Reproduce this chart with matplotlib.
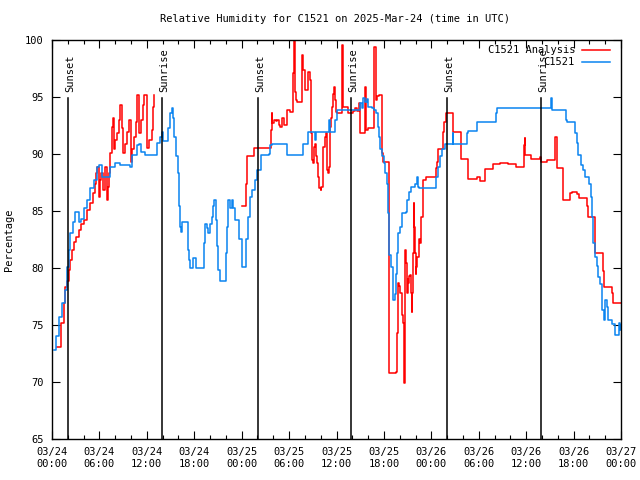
import numpy as np
import matplotlib
matplotlib.use("Agg")
import matplotlib.pyplot as plt

plt.rcParams['font.family'] = 'DejaVu Sans Mono'
plt.rcParams['font.size'] = 7.5

# hours since 2025-03-24 00:00 UTC
obs_t = [0.2, 0.5, 0.85, 1.27, 1.6, 1.9, 2.1, 2.3, 2.6, 2.87, 3.2, 3.4, 3.7, 4.0, 4.4,
         4.85, 5.3, 5.7, 5.9, 6.3, 6.9, 7.4, 7.8, 8.0, 8.6, 9.9, 10.1, 10.8, 11.0, 11.3,
         11.8, 13.0, 13.25, 13.7, 13.9, 14.1, 14.65, 14.9, 15.15, 15.35, 15.5, 15.65, 15.9,
         16.1, 16.2, 16.35, 16.5, 17.0, 17.2, 17.35, 17.5, 17.8, 18.0, 18.2, 19.0, 19.2,
         19.4, 19.6, 19.8, 20.0, 20.2, 20.4, 20.55, 20.7, 20.9, 21.05, 21.3, 21.8, 22.0,
         22.1, 22.3, 22.5, 22.75, 22.9, 23.2, 23.6, 24.0, 24.5, 24.6, 24.8, 25.0, 25.3,
         25.7, 26.0, 26.4, 27.4, 27.6, 27.8, 29.7, 31.7, 31.8, 32.45, 33.1, 33.3, 33.4,
         35.1, 35.2, 35.8, 36.0, 39.0, 39.2, 39.4, 39.6, 39.8, 40.0, 40.5, 40.8, 41.0,
         41.2, 41.4, 41.5, 41.8, 42.05, 42.2, 42.4, 42.5, 42.6, 42.7, 42.9, 43.1, 43.2,
         43.35, 43.5, 43.65, 43.8, 44.0, 44.25, 44.8, 44.9, 45.2, 45.4, 45.95, 46.15,
         46.3, 46.5, 48.6, 48.9, 49.1, 49.4, 49.7, 50.7, 50.8, 52.5, 52.6, 53.8, 56.15,
         56.3, 63.1, 63.2, 63.3, 65.1, 65.2, 66.2, 66.4, 66.6, 66.9, 67.2, 67.4, 67.9,
         68.2, 68.3, 68.5, 68.7, 68.9, 69.1, 69.3, 69.6, 69.8, 70.0, 70.2, 70.4, 70.9,
         71.2, 71.7, 71.9, 72.0]
obs_rh = [72.8, 74.0, 75.7, 76.9, 78.1, 80.1, 81.6, 83.1, 84.0, 84.9, 84.9, 84.0, 84.3, 85.3, 86.0,
          87.0, 87.7, 88.9, 89.0, 88.0, 88.0, 88.9, 88.9, 89.2, 89.0, 88.9, 89.9, 90.8, 90.9, 90.2,
          89.9, 89.9, 91.0, 91.5, 91.9, 91.1, 92.3, 93.6, 94.0, 93.2, 91.5, 89.8, 88.3,
          85.4, 83.6, 83.2, 84.0, 84.0, 81.6, 80.7, 80.0, 80.9, 80.9, 80.0, 80.0, 82.2,
          83.9, 83.5, 83.1, 83.9, 84.5, 85.4, 86.0, 84.2, 81.9, 79.8, 78.9, 78.9, 81.3,
          83.6, 86.0, 85.3, 86.0, 85.3, 84.2, 82.5, 80.1, 80.1, 82.5, 84.5, 86.2, 86.8,
          87.7, 88.6, 89.9, 90.0, 90.8, 90.9, 89.9, 90.8, 90.9, 91.9, 91.9, 91.2, 91.9,
          93.0, 91.9, 93.0, 93.9, 94.5, 94.0, 94.9, 94.6, 94.8, 94.1, 94.0, 93.9, 93.6,
          92.4, 91.5, 90.4, 89.8, 89.2, 88.3, 87.4, 84.8, 82.2, 81.1, 80.1, 78.3, 77.2,
          77.7, 79.5, 81.3, 83.1, 83.6, 84.8, 84.9, 86.0, 86.7, 87.1, 87.4, 88.0,
          87.1, 87.0, 88.0, 88.9, 89.8, 90.4, 90.9, 91.8, 90.9, 91.8, 92.0, 92.8, 93.6,
          94.0, 94.5, 94.9, 93.9, 93.0, 92.8, 91.8, 91.0, 89.9, 89.0, 88.6, 88.0, 87.4,
          86.2, 84.5, 82.2, 81.0, 80.2, 79.2, 78.6, 76.3, 75.4, 77.2, 76.6, 75.4, 75.1,
          74.1, 75.2, 74.6, 75.0]

ana_t = [0.6, 1.2, 1.5, 1.7, 1.9, 2.1, 2.3, 2.5, 2.75, 3.0, 3.4, 3.7, 4.0, 4.4, 4.85, 5.15,
         5.4, 5.6, 5.7, 5.9, 6.1, 6.25, 6.4, 6.75, 6.9, 7.05, 7.2, 7.4, 7.6, 7.7, 7.8, 8.0,
         8.2, 8.45, 8.65, 8.9, 9.0, 9.2, 9.5, 9.7, 10.0, 10.15, 10.4, 10.6, 10.75, 11.0,
         11.3, 11.5, 11.7, 12.0, 12.3, 12.6, 12.8, 12.85, 12.9,
         24.0, 24.6, 24.7, 25.55, 27.7, 27.8, 27.9, 28.1, 28.3, 28.5, 28.7, 28.9, 29.1,
         29.4, 29.7, 30.1, 30.45, 30.6, 30.75, 30.85, 31.0, 31.6, 31.7, 31.8, 32.0, 32.4,
         32.6, 32.75, 32.9, 33.0, 33.1, 33.3, 33.4, 33.55, 33.7, 33.8, 34.0, 34.1, 34.3,
         34.35, 34.5, 34.7, 34.8, 34.9, 35.0, 35.2, 35.3, 35.4, 35.6, 35.7, 35.8, 35.9,
         36.0, 36.75, 36.85, 37.5, 38.1, 38.4, 38.6, 38.8, 39.0, 39.6, 39.7, 39.75, 40.0,
         40.7, 41.0, 41.1, 41.4, 41.7, 41.8, 41.9, 42.6, 42.65, 42.7, 43.5, 43.6, 43.7,
         43.8, 43.9, 44.05, 44.25, 44.4, 44.5, 44.55, 44.62, 44.7, 44.8, 44.9, 45.0, 45.1,
         45.2, 45.3, 45.4, 45.5, 45.6, 45.7, 45.8, 45.85, 45.9, 46.0, 46.1, 46.2, 46.4,
         46.6, 46.7, 46.9, 47.0, 47.3, 48.6, 48.7, 48.8, 49.5, 49.6, 49.85, 50.7, 51.75,
         52.7, 53.75, 54.1, 54.8, 55.8, 56.7, 57.7, 58.7, 59.7, 59.8, 59.9, 60.6, 61.8,
         61.9, 62.6, 63.6, 63.7, 63.9, 64.6, 64.7, 65.6, 65.75, 66.4, 66.7, 67.7, 67.8,
         68.7, 69.75, 69.9, 70.8, 71.05, 72.0]
ana_rh = [73.1, 75.2, 76.9, 78.3, 78.9, 79.8, 80.7, 81.6, 82.3, 82.7, 83.3, 83.9, 84.2, 85.1, 85.7, 86.6,
          87.4, 88.3, 88.9, 86.2, 87.7, 88.3, 86.8, 88.9, 86.0, 87.1, 88.3, 90.1, 92.4, 93.2, 90.4, 91.2,
          91.8, 93.0, 94.3, 92.3, 90.1, 90.9, 91.9, 93.0, 89.3, 90.4, 91.5, 92.8, 95.2, 91.8,
          93.0, 94.3, 95.2, 90.5, 91.2, 92.1, 94.1, 95.2, np.nan,
          85.4, 87.4, 89.8, 90.5, 92.1, 93.6, 92.7, 93.0, 92.9, 93.0, 92.5, 92.4, 93.2,
          92.5, 93.9, 93.7, 97.1, 100.0, 95.4, 94.7, 94.6, 98.7, 97.7, 97.4, 95.6, 97.2,
          96.5, 91.8, 89.5, 89.2, 90.6, 90.9, 89.8, 89.2, 88.0, 87.0, 86.8, 87.1, 89.2,
          90.6, 91.5, 91.8, 88.6, 88.3, 88.9, 92.4, 93.2, 94.1, 95.3, 95.9, 94.7, 93.7,
          93.6, 99.6, 94.1, 93.6, 93.8, 94.0, 93.8, 94.5, 91.8, 95.9, 95.0, 92.1, 92.3,
          99.4, 94.7, 95.1, 95.2, 92.3, 90.1, 89.3, 89.2, 80.1, 70.8, 70.9, 71.0, 74.3,
          78.7, 78.4, 77.8, 75.9, 75.2, 72.6, 69.9, 75.2, 81.6, 80.4, 77.8, 79.0, 78.7,
          79.3, 79.4, 77.8, 76.1, 77.8, 81.3, 85.7, 83.6, 81.3, 79.5, 80.1, 81.0, 82.5,
          82.2, 84.5, 85.3, 87.7, 88.0, 88.8, 89.3, 90.4, 91.9, 92.8, 93.6, 91.9, 89.6,
          87.8, 88.0, 87.6, 88.7, 89.1, 89.2, 89.1, 88.9, 90.8, 91.4, 89.9, 89.6, 89.7,
          89.3, 89.5, 90.5, 91.5, 88.8, 87.3, 86.0, 86.6, 86.7, 86.5, 86.1, 85.4, 84.5,
          81.3, 79.7, 78.3, 77.8, 76.9, 76.9]

sun_t = [2.0, 13.9, 26.05, 37.8, 50.0, 61.9]
sun_names = ["Sunset", "Sunrise", "Sunset", "Sunrise", "Sunset", "Sunrise"]

tick_hours = list(range(0, 73, 6))
tick_labels = ["03/24\n00:00", "03/24\n06:00", "03/24\n12:00", "03/24\n18:00",
               "03/25\n00:00", "03/25\n06:00", "03/25\n12:00", "03/25\n18:00",
               "03/26\n00:00", "03/26\n06:00", "03/26\n12:00", "03/26\n18:00",
               "03/27\n00:00"]

red = '#ff0000'
blue = '#0a84f0'

fig = plt.figure(figsize=(6.4, 4.8), dpi=100)
ax = fig.add_axes([52/640, 1-439/480, 569/640, 399/480])

ax.plot(ana_t, ana_rh, color=red, lw=1.1, drawstyle='steps-post')
ax.plot(obs_t, obs_rh, color=blue, lw=1.1, drawstyle='steps-post')

for t, name in zip(sun_t, sun_names):
    ax.plot([t, t], [65, 94.9], color='black', lw=1.1)
    ax.text(t + 0.3, 95.45, name, rotation=90, ha='center', va='bottom')

ax.set_xlim(0, 72)
ax.set_ylim(65, 100)
ax.set_xticks(tick_hours)
ax.set_xticklabels(tick_labels)
ax.set_xticks(range(0, 73, 2), minor=True)
ax.set_yticks(range(65, 101, 5))
ax.tick_params(direction='in', top=True, right=True, length=6, width=0.8, pad=6)
ax.tick_params(which='minor', direction='in', top=True, bottom=True, length=3, width=0.8)
for s in ax.spines.values():
    s.set_linewidth(1.0)

ax.set_ylabel("Percentage", labelpad=8)
fig.text(335/640, 1-19/480, "Relative Humidity for C1521 on 2025-Mar-24 (time in UTC)",
         ha='center', va='center')

# key, gnuplot style: text right-justified, sample to the right
ax.text(575/640*640/569 - 52/569, 1-(50-40)/399, "C1521 Analysis", transform=ax.transAxes,
        ha='right', va='center')
ax.text(575/640*640/569 - 52/569, 1-(62-40)/399, "C1521", transform=ax.transAxes,
        ha='right', va='center')
ax.plot([(582-52)/569, (610-52)/569], [1-(50-40)/399]*2, color=red, lw=1.1,
        transform=ax.transAxes, clip_on=False)
ax.plot([(582-52)/569, (610-52)/569], [1-(62-40)/399]*2, color=blue, lw=1.1,
        transform=ax.transAxes, clip_on=False)

fig.savefig("out.png", dpi=100)
